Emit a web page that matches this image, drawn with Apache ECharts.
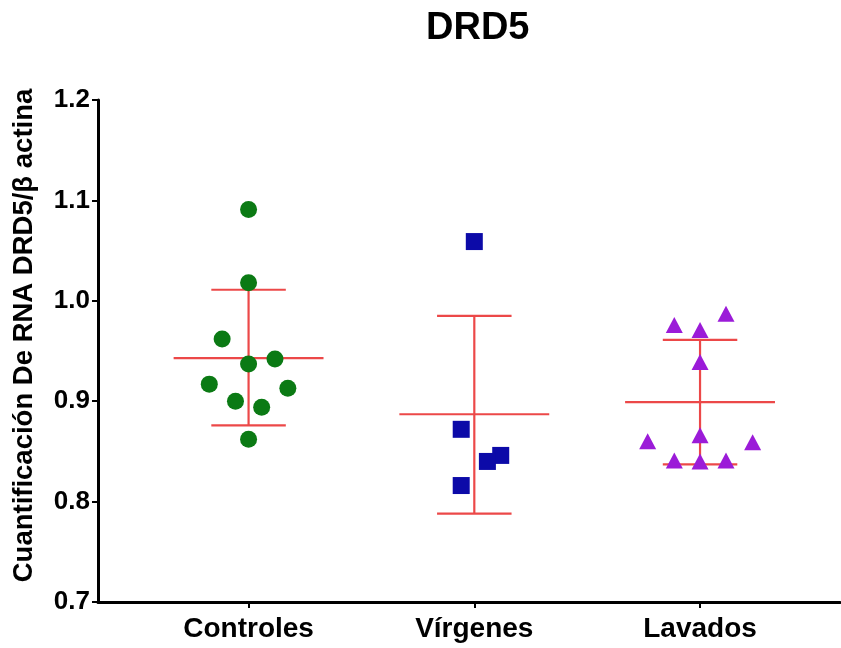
<!DOCTYPE html>
<html>
<head>
<meta charset="utf-8">
<script src="https://cdn.jsdelivr.net/npm/echarts@6/dist/echarts.min.js"></script>
<style>
  html, body { margin: 0; padding: 0; background: #fff; }
  #chart { width: 841px; height: 648px; }
</style>
</head>
<body>
<div id="chart"></div>
<script>
// groups and tick positions
const groups = ["Controles", "Vírgenes", "Lavados"]
const groupX = [1, 2, 3]

// scattered points: x = group position plus jitter, y = value
const controlesX = [1.0, 1.0, 0.883, 1.117, 1.0, 0.826, 1.174, 0.942, 1.058, 1.0]
const controlesY = [1.091, 1.018, 0.962, 0.942, 0.937, 0.917, 0.913, 0.900, 0.894, 0.862]
const virgenesX = [2.0, 1.942, 2.117, 2.058, 1.942]
const virgenesY = [1.059, 0.872, 0.846, 0.840, 0.816]
const lavadosX = [2.886, 3.0, 3.115, 3.0, 3.0, 2.768, 3.233, 2.886, 3.0, 3.115]
const lavadosY = [0.976, 0.971, 0.987, 0.939, 0.866, 0.860, 0.859, 0.841, 0.840, 0.841]

// mean and SD bars
const means = [0.943, 0.887, 0.899]
const sdLow = [0.876, 0.788, 0.837]
const sdHigh = [1.011, 0.985, 0.961]

const zip = (xs, ys) => xs.map((x, i) => [x, ys[i]])
const font = "'Liberation Sans', Arial, sans-serif"

const chart = echarts.init(document.getElementById("chart"))

chart.setOption({
  animation: false,
  title: {
    text: "DRD5",
    left: 421,
    top: 5,
    textStyle: { fontFamily: font, fontWeight: "bold", fontSize: 38, color: "#000" }
  },
  grid: { left: 98, right: 1, top: 100, bottom: 46, outerBoundsMode: "none", containLabel: false },
  xAxis: {
    type: "value",
    min: 0.333,
    max: 3.62,
    splitLine: { show: false },
    axisLine: { lineStyle: { color: "#000", width: 3 } },
    axisTick: { customValues: groupX, length: 6, lineStyle: { color: "#000", width: 2 } },
    axisLabel: {
      customValues: groupX,
      formatter: v => groups[groupX.indexOf(v)] || "",
      color: "#000",
      fontFamily: font,
      fontWeight: "bold",
      fontSize: 28,
      margin: 13
    }
  },
  yAxis: {
    type: "value",
    min: 0.7,
    max: 1.2,
    interval: 0.1,
    splitLine: { show: false },
    axisLine: { show: true, lineStyle: { color: "#000", width: 3 } },
    axisTick: { show: true, length: 6, lineStyle: { color: "#000", width: 2 } },
    axisLabel: {
      formatter: v => v.toFixed(1),
      color: "#000",
      fontFamily: font,
      fontWeight: "bold",
      fontSize: 26,
      margin: 8,
      padding: [0, 0, 10, 0]
    },
    name: "Cuantificación De RNA DRD5/β actina",
    nameLocation: "middle",
    nameRotate: 90,
    nameGap: 60,
    nameTextStyle: {
      color: "#000",
      fontFamily: font,
      fontWeight: "bold",
      fontSize: 27.5,
      padding: [0, 0, 0, 31]
    }
  },
  series: [
    {
      type: "custom",
      z: 1,
      data: groupX.map((x, i) => [x, means[i], sdLow[i], sdHigh[i]]),
      renderItem: (params, api) => {
        const x = api.value(0)
        const mL = api.coord([x - 0.332, api.value(1)])
        const mR = api.coord([x + 0.332, api.value(1)])
        const lo = api.coord([x, api.value(2)])
        const hi = api.coord([x, api.value(3)])
        const capL = api.coord([x - 0.165, 0])[0]
        const capR = api.coord([x + 0.165, 0])[0]
        const style = { stroke: "#ec4848", lineWidth: 2.2 }
        return {
          type: "group",
          children: [
            { type: "line", shape: { x1: mL[0], y1: mL[1], x2: mR[0], y2: mR[1] }, style },
            { type: "line", shape: { x1: lo[0], y1: lo[1], x2: hi[0], y2: hi[1] }, style },
            { type: "line", shape: { x1: capL, y1: lo[1], x2: capR, y2: lo[1] }, style },
            { type: "line", shape: { x1: capL, y1: hi[1], x2: capR, y2: hi[1] }, style }
          ]
        }
      }
    },
    {
      type: "scatter",
      z: 2,
      data: zip(controlesX, controlesY),
      symbol: "circle",
      symbolSize: 17,
      itemStyle: { color: "#0b7a14", opacity: 1 }
    },
    {
      type: "scatter",
      z: 2,
      data: zip(virgenesX, virgenesY),
      symbol: "rect",
      symbolSize: 17,
      itemStyle: { color: "#0c0aa8", opacity: 1 }
    },
    {
      type: "scatter",
      z: 2,
      data: zip(lavadosX, lavadosY),
      symbol: "triangle",
      symbolSize: [17, 16],
      itemStyle: { color: "#9b1bd8", opacity: 1 }
    }
  ]
})
</script>
</body>
</html>
